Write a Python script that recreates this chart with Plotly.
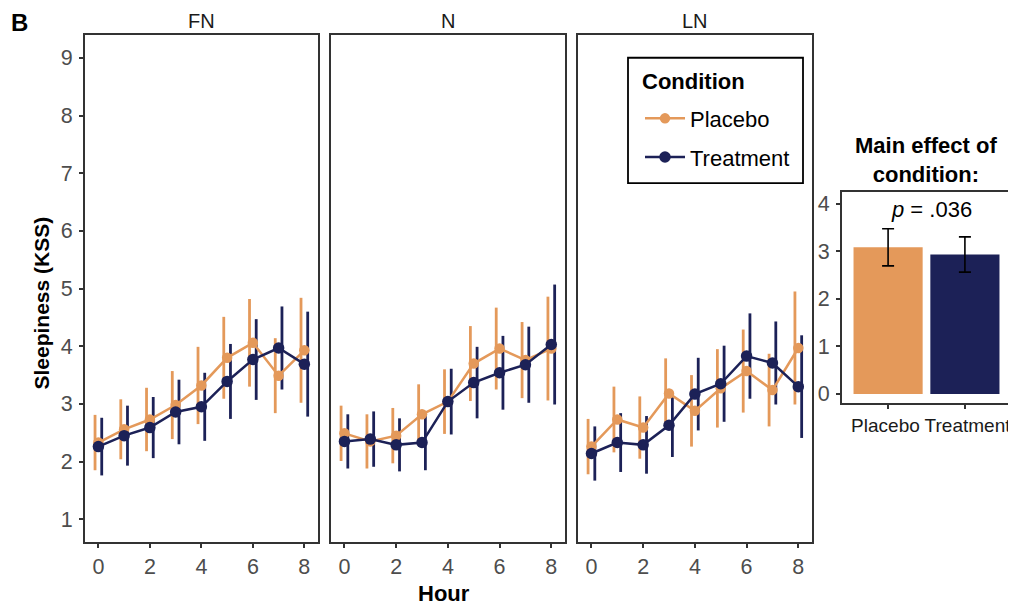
import plotly.graph_objects as go

hours = [0, 1, 2, 3, 4, 5, 6, 7, 8]
panels = ["FN", "N", "LN"]

placebo_mean = {
    "FN": [2.33, 2.56, 2.73, 2.98, 3.32, 3.80, 4.06, 3.49, 3.93],
    "N":  [2.49, 2.35, 2.45, 2.82, 3.04, 3.70, 3.96, 3.76, 3.96],
    "LN": [2.26, 2.73, 2.59, 3.18, 2.88, 3.27, 3.57, 3.24, 3.97],
}
placebo_err = {
    "FN": [0.48, 0.52, 0.55, 0.59, 0.67, 0.71, 0.76, 0.65, 0.91],
    "N":  [0.48, 0.47, 0.48, 0.52, 0.56, 0.65, 0.71, 0.66, 0.90],
    "LN": [0.48, 0.57, 0.54, 0.61, 0.62, 0.68, 0.72, 0.63, 0.98],
}
treat_mean = {
    "FN": [2.26, 2.45, 2.59, 2.86, 2.95, 3.39, 3.77, 3.97, 3.69],
    "N":  [2.35, 2.39, 2.29, 2.33, 3.04, 3.37, 3.54, 3.68, 4.03],
    "LN": [2.14, 2.33, 2.29, 2.63, 3.17, 3.35, 3.83, 3.71, 3.30],
}
treat_err = {
    "FN": [0.50, 0.52, 0.53, 0.56, 0.59, 0.65, 0.70, 0.72, 0.91],
    "N":  [0.47, 0.48, 0.46, 0.48, 0.57, 0.62, 0.64, 0.66, 1.04],
    "LN": [0.47, 0.51, 0.50, 0.55, 0.63, 0.66, 0.74, 0.72, 0.89],
}

bar_labels = ["Placebo", "Treatment"]
bar_means = [3.08, 2.93]
bar_err = [0.39, 0.37]
p_label = "<i>p</i> = .036"

ORANGE = "#E4995A"
NAVY = "#1C2157"
FONT = "Liberation Sans, Arial, sans-serif"
# page body has an 8px margin; figure coordinates are reference pixels minus 8
OFF = 8
W, H = 1008, 601
DODGE = 0.13
NBSP = "\u00a0"


def px(x):
    return (x - OFF) / W


def py(y):
    return 1 - (y - OFF) / H


fig = go.Figure()

x_domains = [[px(85), px(318)], [px(331), px(565)], [px(578), px(812)]]
y_domain = [py(545), py(35)]

for i, p in enumerate(panels):
    xa = "x" if i == 0 else f"x{i+1}"
    ya = "y" if i == 0 else f"y{i+1}"
    fig.add_trace(go.Scatter(
        x=[h - DODGE for h in hours], y=placebo_mean[p], mode="markers",
        marker=dict(size=1, opacity=0),
        error_y=dict(type="data", array=placebo_err[p], visible=True,
                     color=ORANGE, thickness=2.8, width=0),
        xaxis=xa, yaxis=ya, showlegend=False, hoverinfo="skip"))
    fig.add_trace(go.Scatter(
        x=[h + DODGE for h in hours], y=treat_mean[p], mode="markers",
        marker=dict(size=1, opacity=0),
        error_y=dict(type="data", array=treat_err[p], visible=True,
                     color=NAVY, thickness=2.8, width=0),
        xaxis=xa, yaxis=ya, showlegend=False, hoverinfo="skip"))
    fig.add_trace(go.Scatter(
        x=hours, y=placebo_mean[p], mode="lines+markers", name="Placebo",
        line=dict(color=ORANGE, width=2.5), marker=dict(color=ORANGE, size=10.5),
        xaxis=xa, yaxis=ya, showlegend=(i == 0), legendgroup="pl", legendrank=1))
    fig.add_trace(go.Scatter(
        x=hours, y=treat_mean[p], mode="lines+markers", name="Treatment",
        line=dict(color=NAVY, width=2.5), marker=dict(color=NAVY, size=11.5),
        xaxis=xa, yaxis=ya, showlegend=(i == 0), legendgroup="tr", legendrank=2))

fig.add_trace(go.Bar(
    x=[0, 1], y=bar_means, width=0.9, marker=dict(color=[ORANGE, NAVY], line=dict(width=0)),
    error_y=dict(type="data", array=bar_err, visible=True, color="black",
                 thickness=1.6, width=6),
    xaxis="x4", yaxis="y4", showlegend=False))

axis_common = dict(showline=True, mirror=True, linecolor="#333333", linewidth=1.8,
                   ticks="outside", ticklen=4, tickcolor="#333333", tickwidth=1.5,
                   showgrid=False, zeroline=False, ticklabelstandoff=2,
                   tickfont=dict(family=FONT, size=21.5, color="#4D4D4D"))

layout = dict(width=W, height=H, margin=dict(l=0, r=0, t=0, b=0),
              plot_bgcolor="white", paper_bgcolor="white",
              font=dict(family=FONT))
for i in range(3):
    sfx = "" if i == 0 else str(i + 1)
    xa = dict(domain=x_domains[i], range=[-0.52, 8.53],
              tickvals=[0, 2, 4, 6, 8], anchor="y" + sfx, **axis_common)
    xa["ticklabelstandoff"] = 0
    layout["xaxis" + sfx] = xa
    ya = dict(domain=y_domain, range=[0.6, 9.4], tickvals=list(range(1, 10)),
              anchor="x" + sfx, **axis_common)
    if i > 0:
        ya["showticklabels"] = False
        ya["ticks"] = ""
    layout["yaxis" + sfx] = ya

bar_ticktext = [bar_labels[0] + NBSP, NBSP + bar_labels[1]]
layout["xaxis4"] = dict(domain=[px(842), px(1011)], range=[-0.6, 1.6], anchor="y4",
                        tickvals=[0, 1], ticktext=bar_ticktext, tickangle=0,
                        **{**axis_common, "ticklabelstandoff": 0,
                           "tickfont": dict(family=FONT, size=19, color="#1A1A1A")})
layout["yaxis4"] = dict(domain=[py(405), py(193)], range=[-0.19, 4.24], anchor="x4",
                        tickvals=[0, 1, 2, 3, 4], **axis_common)

layout["legend"] = dict(x=px(640), y=py(98), xanchor="left", yanchor="top",
                        borderwidth=0, bgcolor="rgba(0,0,0,0)",
                        font=dict(family=FONT, size=22, color="black"),
                        itemwidth=40, tracegroupgap=7)

layout["shapes"] = [dict(type="rect", xref="paper", yref="paper",
                         x0=px(628), x1=px(803), y0=py(184), y1=py(58),
                         line=dict(color="black", width=1.8), fillcolor="white", layer="below")]

annotations = []
for i, p in enumerate(panels):
    cx = (x_domains[i][0] + x_domains[i][1]) / 2
    annotations.append(dict(text=p, x=cx, y=py(21), xref="paper", yref="paper",
                            showarrow=False, font=dict(family=FONT, size=20, color="#1A1A1A"),
                            xanchor="center", yanchor="middle"))
annotations.append(dict(text="<b>B</b>", x=px(19), y=py(23), xref="paper", yref="paper",
                        showarrow=False, font=dict(family=FONT, size=24, color="black"),
                        xanchor="center", yanchor="middle"))
annotations.append(dict(text="<b>Condition</b>", x=px(640), y=py(82), xref="paper", yref="paper",
                        showarrow=False, font=dict(family=FONT, size=22, color="black"),
                        xanchor="left", yanchor="middle"))
annotations.append(dict(text="<b>Hour</b>", x=px(444), y=py(596), xref="paper", yref="paper",
                        showarrow=False, font=dict(family=FONT, size=22, color="black"),
                        xanchor="center", yanchor="middle"))
annotations.append(dict(text="<b>Sleepiness (KSS)</b>", x=px(42), y=py(305), xref="paper", yref="paper",
                        showarrow=False, textangle=-90, font=dict(family=FONT, size=21, color="black"),
                        xanchor="center", yanchor="middle"))
annotations.append(dict(text="<b>Main effect of<br>condition:</b>", x=px(926), y=py(161),
                        xref="paper", yref="paper", showarrow=False,
                        font=dict(family=FONT, size=22, color="black"),
                        xanchor="center", yanchor="middle"))
annotations.append(dict(text=p_label, x=0.57, y=3.88, xref="x4", yref="y4", showarrow=False,
                        font=dict(family=FONT, size=22, color="black"),
                        xanchor="center", yanchor="middle"))
layout["annotations"] = annotations

fig.update_layout(**layout)
fig.write_html("out.html")
